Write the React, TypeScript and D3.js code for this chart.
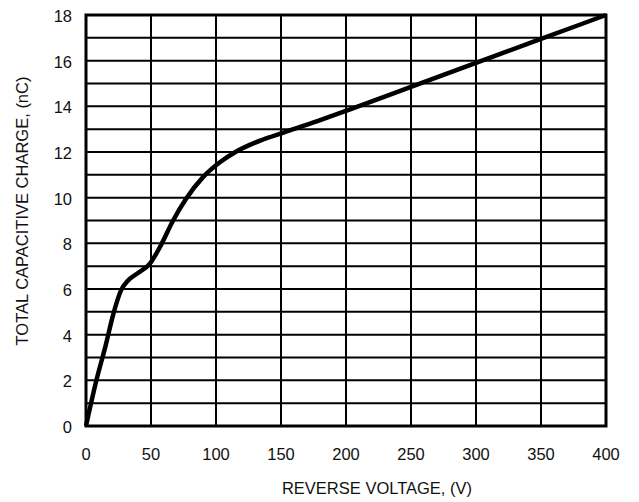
import React, { useRef, useEffect } from 'react';
import * as d3 from 'd3';

// curve: reverse voltage (V) vs total capacitive charge (nC)
const voltage = [0, 8, 15, 21, 27, 32, 40, 49, 57, 67, 77, 90, 103, 115, 134, 152, 178, 200, 250, 300, 350, 400];
const charge = [0, 2, 3.5, 4.9, 5.95, 6.35, 6.7, 7.1, 7.85, 9, 9.95, 10.9, 11.55, 12, 12.5, 12.85, 13.35, 13.8, 14.85, 15.9, 16.95, 18];
const xTicks = [0, 50, 100, 150, 200, 250, 300, 350, 400];
const yTicks = [0, 2, 4, 6, 8, 10, 12, 14, 16, 18];
const yGrid = d3.range(0, 19, 1);

const width = 639;
const height = 502;
const margin = { left: 86, right: 33, top: 15, bottom: 76 };
const font = '"Liberation Sans", Arial, sans-serif';

const App = () => {
    const ref = useRef<SVGSVGElement>(null);

    useEffect(() => {
        if (!ref.current) return;
        const svg = d3.select(ref.current);
        svg.selectAll('*').remove();

        const x = d3.scaleLinear().domain([0, 400]).range([margin.left, width - margin.right]);
        const y = d3.scaleLinear().domain([0, 18]).range([height - margin.bottom, margin.top]);

        const g = svg.append('g');

        // grid
        g.selectAll('line.h').data(yGrid).enter().append('line')
            .attr('x1', x(0)).attr('x2', x(400))
            .attr('y1', d => y(d)).attr('y2', d => y(d))
            .attr('stroke', '#000').attr('stroke-width', 2);
        g.selectAll('line.v').data(xTicks).enter().append('line')
            .attr('y1', y(0)).attr('y2', y(18))
            .attr('x1', d => x(d)).attr('x2', d => x(d))
            .attr('stroke', '#000').attr('stroke-width', 2);

        // frame
        g.append('rect')
            .attr('x', x(0)).attr('y', y(18))
            .attr('width', x(400) - x(0)).attr('height', y(0) - y(18))
            .attr('fill', 'none').attr('stroke', '#000').attr('stroke-width', 3);

        // curve
        const pts: [number, number][] = voltage.map((v, i) => [v, charge[i]]);
        const line = d3.line<[number, number]>()
            .x(d => x(d[0])).y(d => y(d[1]))
            .curve(d3.curveMonotoneX);
        g.append('path').datum(pts)
            .attr('d', line)
            .attr('fill', 'none').attr('stroke', '#000')
            .attr('stroke-width', 4.5).attr('stroke-linejoin', 'round');

        // tick labels
        g.selectAll('text.xt').data(xTicks).enter().append('text')
            .attr('x', d => x(d)).attr('y', 454)
            .attr('text-anchor', 'middle').attr('dominant-baseline', 'central')
            .style('font-family', font).style('font-size', '16.5px').style('fill', '#111')
            .text(d => d);
        g.selectAll('text.yt').data(yTicks).enter().append('text')
            .attr('x', 72).attr('y', d => y(d) + 1)
            .attr('text-anchor', 'end').attr('dominant-baseline', 'central')
            .style('font-family', font).style('font-size', '16.5px').style('fill', '#111')
            .text(d => d);

        // axis titles
        g.append('text')
            .attr('x', 377).attr('y', 488)
            .attr('text-anchor', 'middle').attr('dominant-baseline', 'central')
            .style('font-family', font).style('font-size', '16.5px').style('fill', '#111')
            .text('REVERSE VOLTAGE, (V)');
        g.append('text')
            .attr('transform', 'translate(22, 211) rotate(-90)')
            .attr('text-anchor', 'middle').attr('dominant-baseline', 'central')
            .style('font-family', font).style('font-size', '16.5px').style('fill', '#111')
            .text('TOTAL CAPACITIVE CHARGE, (nC)');
    }, []);

    return (
        <svg ref={ref} width={width} height={height}
            style={{ position: 'absolute', left: 0, top: 0, background: '#fff' }} />
    );
};

export default App;
